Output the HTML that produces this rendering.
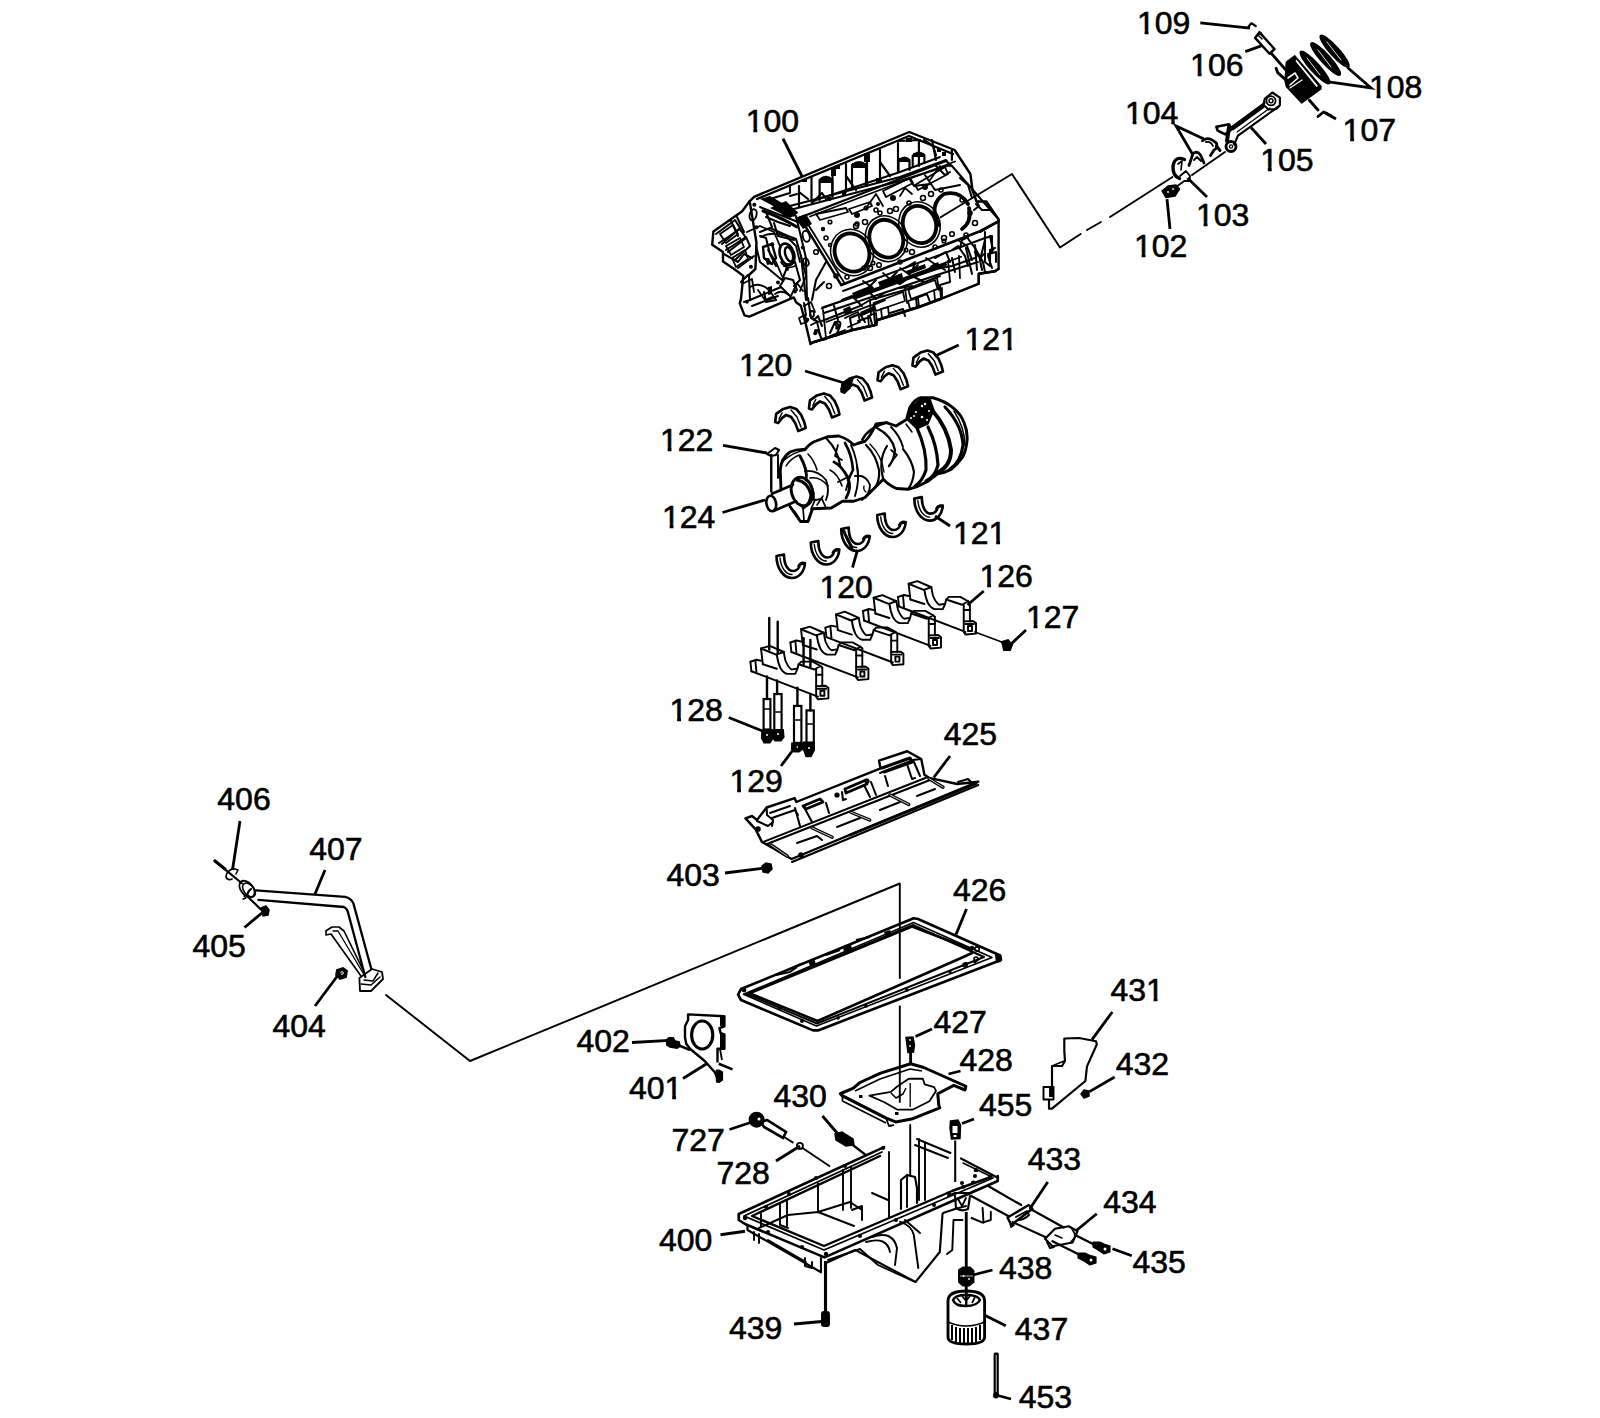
<!DOCTYPE html>
<html><head><meta charset="utf-8"><style>
html,body{margin:0;padding:0;background:#fff;width:1600px;height:1418px;overflow:hidden}
svg{display:block}
.lb text{font-family:"Liberation Sans",sans-serif;font-size:32px;fill:#000;stroke:#000;stroke-width:0.6px}
.ld polyline{fill:none;stroke:#000;stroke-width:2.8;stroke-linecap:butt;stroke-linejoin:miter}
</style></head><body>
<svg width="1600" height="1418" viewBox="0 0 1600 1418">
<rect width="1600" height="1418" fill="#fff"/>
<g id="lines" fill="none" stroke="#000" stroke-width="1.92" stroke-linejoin="round" stroke-linecap="round">
<!-- block to conn rod -->
<polyline points="940.6,217.3 1012,174 1060,247.5 1080.6,234"/>
<polyline points="1087,230 1101,222" />
<polyline points="1110,217 1172.5,177" />
<polyline points="1192,175 1225,152" />
<!-- dipstick to gasket -->
<polyline points="386,995 470,1061 899.8,883.5 899.8,978"/>
<polyline points="899.8,1006.5 899.8,1102"/>
<polyline points="910.2,1125 910.2,1176"/>
</g>

<g id="piston" fill="none" stroke="#000" stroke-width="1.92" stroke-linejoin="round" stroke-linecap="round">
<!-- 109 hook -->
<polyline points="1248.2,27 1251.4,23.1 1255.8,26.2" stroke-width="2.16"/>
<!-- wrist pin 106 -->
<polygon points="1259.4,32.1 1274.5,49.1 1269.5,53.8 1255.1,37.9" stroke-width="2.4"/>
<polyline points="1256.5,36.5 1261,32.5" stroke-width="1.56"/>
<polyline points="1258,35 1262,39" stroke-width="1.44"/>
<line x1="1271" y1="53" x2="1291.4" y2="76.3" stroke-width="2.8"/>
<polyline points="1276.2,68.4 1277.9,72.9 1286.9,80.8" stroke-width="2.88"/>
<!-- rings 108 -->
<g fill="#000" stroke-width="1.44">
<ellipse cx="1315" cy="67.5" rx="4.6" ry="21.5" transform="rotate(-42 1315 67.5)"/>
<ellipse cx="1325.6" cy="59" rx="4.6" ry="21.5" transform="rotate(-42 1325.6 59)"/>
<ellipse cx="1334.6" cy="51.2" rx="4.6" ry="21" transform="rotate(-42 1334.6 51.2)"/>
</g>
<g stroke="#fff" stroke-width="0.9">
<line x1="1307" y1="58" x2="1320" y2="75"/>
<line x1="1318" y1="50" x2="1331" y2="67"/>
<line x1="1327" y1="42" x2="1341" y2="60"/>
</g>
<!-- piston body -->
<polygon points="1286.4,62.2 1294.8,56 1320.8,86.4 1320.8,88.7 1301.6,102.8 1286.4,86.4 1285.2,80.8" fill="#000" stroke-width="1.68"/>
<line x1="1296.5" y1="61" x2="1316.8" y2="85.9" stroke="#fff" stroke-width="1.8"/>
<polyline points="1288,78 1295,73 1298,78 1290,85" stroke="#fff" stroke-width="1.56"/>
<polyline points="1290,88 1302,80" stroke="#fff" stroke-width="1.2"/>
<!-- 107 retainer -->
<polyline points="1309.4,100.3 1318,110" stroke-width="2.88"/>
<polyline points="1318,116.5 1323.5,112 1331,116" stroke-width="2.88"/>
<!-- conn rod 105 -->
<polygon points="1264.7,98.9 1272.3,92.5 1279.9,97.6 1279.9,105.2 1276.1,109 1268.5,109.5 1263.5,105" stroke-width="2.16"/>
<circle cx="1271" cy="100.8" r="4.6" stroke-width="1.8"/>
<circle cx="1271" cy="100.8" r="2" stroke-width="1.44"/>
<polyline points="1264.7,102.7 1230.4,128" stroke-width="1.92"/>
<line x1="1263" y1="106" x2="1233" y2="128" stroke-width="4.2"/>
<polyline points="1278.6,106.5 1238,135.7 1234.2,144.6" stroke-width="2.16"/>
<line x1="1270" y1="108" x2="1237" y2="132" stroke-width="1.2"/>
<polyline points="1216.4,126.8 1229.1,124.3 1231.7,129.3 1225.3,134.4 1217.7,130.6 1216.4,126.8" stroke-width="2.64"/>
<line x1="1229" y1="127" x2="1227" y2="141" stroke-width="4"/>
<circle cx="1231" cy="146.5" r="5" stroke-width="2.88"/>
<circle cx="1231" cy="146.5" r="1.6" stroke-width="1.2"/>
<!-- bearings 104 -->
<path d="M1202.5,140.8 Q1208,135.5 1216.5,143.3 Q1218,148 1214,150 L1210.5,155.5" stroke-width="2.8"/>
<path d="M1206,142 Q1211,141 1213,146" stroke-width="1.8"/>
<path d="M1216.5,146 L1220,150.5" stroke-width="2.88"/>
<path d="M1189,165.5 L1193,153.5 Q1197,150.5 1200.5,155 L1204,163" stroke-width="2.8"/>
<path d="M1194,160 L1197,157 L1201,161" stroke-width="1.8"/>
<!-- cap 103 -->
<path d="M1184.5,159.5 Q1175,155.5 1173,166 Q1172.5,176 1179.5,178.5" stroke-width="3.4"/>
<path d="M1178,164 L1182,161 L1181,170" stroke-width="1.68"/>
<polyline points="1180,176 1186,171 1190,176 1189.5,181 1184,181" stroke-width="1.92"/>
<!-- nut 102 -->
<polygon points="1162,191 1168,186 1176,185 1179.5,189 1175,196 1166,197.6" fill="#000" stroke-width="1.44"/>
<circle cx="1168" cy="192" r="0.9" fill="#fff" stroke="none"/><circle cx="1173" cy="189" r="0.9" fill="#fff" stroke="none"/>
<line x1="1176" y1="187" x2="1183" y2="182" stroke-width="1.8"/>
</g>

<g id="block" fill="none" stroke="#000" stroke-width="2.04" stroke-linejoin="round" stroke-linecap="round">
<!-- silhouette -->
<polygon stroke-width="2.4" points="754.1,196.8 909.3,132 954.6,150 970.4,174 972.5,190.5 976.6,201.5 986.3,201.5 998.6,219.4 998.6,268.75 995,271.25 978.75,273.75 978.75,283.75 941.25,298.75 917.5,307.5 877.5,320 875,325 852.5,330 812.5,342.5 810.5,344.2 805.7,323.8 800.9,305.8 796.1,302.2 793.7,297.4 749.3,316.6 744.5,315.4 739.8,303.4 741,298.6 743.3,275.9 733.8,268.7 723,261.5 723,251.9 712.2,244.7 713.4,231.5 742.2,211.2 749.3,201.6"/>
<!-- valley rails -->
<polyline stroke-width="2.4" points="757,199 909,136 953,154"/>
<polyline stroke-width="2.16" points="790,206 900,177 946,160 950,166"/>
<polyline stroke-width="2.16" points="790,210 900,181 950,165"/>
<polyline stroke-width="1.92" points="813,201 900,172 940,157"/>
<polyline stroke-width="1.92" points="770,199 790,193 790,185"/>
<g stroke-width="2.16">
<polyline points="799,186 799,207"/><polyline points="811.5,177 811.5,202"/>
<polyline points="832.5,170 832.5,197"/><polyline points="846,164 846,192"/>
<polyline points="867,156 867,186"/><polyline points="880,150 880,179"/>
<polyline points="898,143 898,172"/><polyline points="918.9,140 918.9,166"/>
<polyline points="932,140 936,160"/><polyline points="951.9,150 951.9,160"/>
<path d="M819.6,200 L819.6,180 Q826,174 832.3,180 L832.3,197"/>
<path d="M852,189 L852,165 Q859,159 866,165 L866,186"/>
<path d="M898.5,172 L898.5,161 Q904,155 909.5,160 L909.5,170"/>
<path d="M912.7,166 L912.7,156 Q918,150 924.4,155 L924.4,163"/>
<polyline points="846,176 856,190"/><polyline points="799,192 808,199"/>
<polyline points="880,162 890,176"/><polyline points="924,140 933,146 936,155"/>
<polyline points="899,141 920,140"/>
<polyline points="812,203 822,193 826,199"/>
<polyline points="790,196 797,194"/>
</g>
<g fill="#000" stroke="none">
<rect x="820" y="178" width="12" height="5"/><rect x="852" y="163" width="14" height="5"/>
<rect x="899" y="158" width="10" height="4"/><rect x="913" y="153" width="11" height="4"/>
<rect x="831" y="168" width="5" height="8"/><rect x="864" y="153" width="6" height="9"/>
<rect x="802" y="179" width="5" height="3"/><rect x="835" y="165" width="5" height="4"/>
<rect x="876" y="178" width="6" height="5"/><rect x="906" y="138" width="6" height="4"/>
<rect x="937" y="148" width="4" height="4"/><rect x="942" y="152" width="4" height="4"/>
<polygon points="770,208 786,201 798,213 790,218"/>
<polygon points="795,218 806,214 812,224 803,229"/>
<rect x="827" y="197" width="4" height="4"/><rect x="842" y="192" width="4" height="4"/>
</g>
<!-- deck -->
<polyline stroke-width="2.16" points="800,217.5 946,161 952,166 998.6,219.4"/>
<polyline stroke-width="2.4" points="800,217.5 841.25,285"/>
<polyline stroke-width="1.8" points="806,221 845,284"/>
<polyline points="935,165 945,175 950,172"/>
<polyline points="925,175 935,190 960,185"/>
<polyline points="909,178 914,186 930,184"/>
<polyline points="960,178 968,185 972,198"/>
<polyline points="976,204 982,210 990,210"/>
<!-- deck-valley band details -->
<polyline stroke-width="1.8" points="810,216.5 955,161.5"/>
<polygon stroke-width="1.8" points="816,214 846,208 848,212 820,220"/>
<polygon stroke-width="1.8" points="849,209 870,202 872,206 852,214"/>
<polygon stroke-width="1.8" points="883,191 910,178 913,183 886,197"/>
<polygon stroke-width="1.8" points="915,185 945,167 948,174 918,190"/>
<polyline stroke-width="1.8" points="866,208 876,194 883,206"/>
<polyline stroke-width="1.8" points="930,180 940,166"/>
<polyline stroke-width="1.8" points="900,196 905,188 912,194"/>
<g fill="#000" stroke="none">
<circle cx="857" cy="215" r="3"/><circle cx="893" cy="198" r="3"/><circle cx="925" cy="187" r="3"/>
<circle cx="823" cy="229" r="2.2"/><circle cx="878" cy="204" r="2"/>
</g>
<g stroke-width="1.56">
<circle cx="856" cy="226" r="2.5"/><circle cx="865" cy="222" r="2.5"/><circle cx="890" cy="211" r="2.5"/>
<circle cx="896" cy="209" r="2.5"/><circle cx="923" cy="198" r="2.5"/><circle cx="931" cy="194" r="2.5"/>
<circle cx="829" cy="286" r="2.5"/><circle cx="870" cy="268" r="2.5"/><circle cx="879" cy="265" r="2.3"/>
<circle cx="912" cy="252" r="2.5"/><circle cx="944" cy="238" r="2.5"/><circle cx="952" cy="234" r="2.3"/>
<circle cx="975" cy="223" r="2.5"/><circle cx="816" cy="252" r="2.3"/><circle cx="836" cy="276" r="2"/>
</g>
<!-- bores -->
<g stroke-width="3.8">
<ellipse cx="852" cy="252.5" rx="17" ry="19.5" transform="rotate(-23 852 252.5)"/>
<ellipse cx="886.3" cy="238.7" rx="16.5" ry="19.3" transform="rotate(-23 886.3 238.7)"/>
<ellipse cx="919.5" cy="224.5" rx="16.3" ry="19" transform="rotate(-23 919.5 224.5)"/>
<path d="M939,225 Q928,205 944,194 Q960,190 968,204" />
<path d="M969,208 Q972,222 962,229"/>
</g>
<g stroke-width="1.56">
<ellipse cx="852" cy="252.5" rx="21" ry="23.5" transform="rotate(-23 852 252.5)"/>
<ellipse cx="886.3" cy="238.7" rx="20.5" ry="23.3" transform="rotate(-23 886.3 238.7)"/>
<ellipse cx="919.5" cy="224.5" rx="20.3" ry="23" transform="rotate(-23 919.5 224.5)"/>
<circle cx="826" cy="238" r="2"/><circle cx="857" cy="224" r="2"/><circle cx="864" cy="268" r="2"/><circle cx="880" cy="213" r="2"/>
<circle cx="900" cy="262" r="2"/><circle cx="909" cy="203" r="2"/><circle cx="935" cy="247" r="2"/><circle cx="941" cy="190" r="2"/>
<circle cx="966" cy="235" r="2"/><circle cx="847" cy="277" r="2"/><circle cx="876" cy="210" r="2"/><circle cx="830" cy="245" r="1.5"/>
<circle cx="962" cy="200" r="2"/><circle cx="970" cy="213" r="2"/><circle cx="873" cy="263" r="1.8"/><circle cx="906" cy="250" r="1.8"/>
<circle cx="944" cy="241" r="1.8"/><circle cx="830" cy="222" r="1.8"/><circle cx="866" cy="208" r="1.8"/>
</g>
<!-- rear face -->
<polyline points="976.6,201.5 979,206 974,210"/>
<polyline points="980,232 997,222"/>
<polyline points="985,232 985,262 990,266 990,250 995,248"/>
<polyline points="990,236 993,250"/>
<polyline points="966,236 975,248 983,262 985,272"/>
<polyline points="958,240 967,246 972,260"/>
<polyline points="988,254 996,252 996,262"/>
<!-- skirt -->
<polyline stroke-width="2.64" points="841.25,285 980,231.25 998.75,221.25"/>
<polyline stroke-width="1.92" points="843,291 985,238"/>
<polyline stroke-width="2.16" points="822.5,307.5 937.5,268.75 952,266 975,258"/>
<polyline stroke-width="1.92" points="824,313 940,274 978,262"/>
<polyline stroke-width="1.92" points="822,321 860,306 870,300 905,290 940,276"/>
<polyline stroke-width="2.4" points="812.5,342.5 852.5,330 875,325 877.5,320 917.5,307.5 941.25,298.75 978.75,283.75 978.75,273.75 995,271.25 998.75,268.75"/>
<polyline points="852,330 850,318 860,314 865,322"/>
<polyline points="875,323 873,305 885,300"/>
<polyline points="917,307 916,298 927,294 930,302"/>
<polyline points="941,298 940,285 950,282"/>
<polyline points="830,333 835,322 840,326 836,336"/>
<polyline points="858,321 870,317 872,324"/>
<polyline points="890,313 903,309 905,316"/>
<polyline points="842,300 852,296 862,306"/>
<polyline points="856,293 866,289 876,299 884,293"/>
<polyline points="888,280 900,284 912,276 924,282"/>
<polyline points="928,270 935,264 945,270"/>
<polyline points="900,288 912,286"/>
<polyline points="905,268 915,262 912,272"/>
<polyline points="935,258 946,252 950,262"/>
<polyline points="952,250 958,246 965,256 968,266"/>
<polyline points="960,248 962,240 968,237"/>
<polyline points="966,248 972,274"/><polyline points="975,245 977,270"/>
<polyline points="955,272 952,258"/>
<polyline points="985,238 992,236 992,252 988,256 992,268"/>
<polyline points="975,252 980,258 984,254"/>
<polyline points="985,240 980,260 982,270"/>
<polyline points="818,330 822,340 826,339"/>
<polyline points="814,320 818,316 822,326"/>
<polyline points="834,306 838,320"/>
<g fill="#000" stroke="none">
<polygon points="852,293 872,285 874,290 854,298"/>
<polygon points="878,282 902,273 903,278 880,287"/>
<polygon points="906,271 925,264 926,268 908,275"/>
<polygon points="860,312 874,306 876,310 862,316"/>
<polygon points="843,309 850,306 852,312 845,315"/>
<polygon points="930,266 938,262 940,266 932,270"/>
<circle cx="816" cy="331" r="2"/><circle cx="837" cy="328" r="1.8"/>
</g>
<!-- skirt extra density -->
<g stroke-width="1.8">
<polyline points="856.6,297.25 945.5,264.6" stroke-width="3.2"/>
<polyline points="821.75,308.5 961.25,256.75"/>
<polyline points="826.25,322 871.25,305.1"/>
<polygon points="873.5,303 903,292 905,301 876,311"/>
<polygon points="908.4,290 935,280 937.6,289 911,299"/>
<polyline points="870,300 871,315"/><polyline points="905,288 907,303"/>
<polyline points="936.5,275 939,290"/><polyline points="948,261 950,281"/><polyline points="959,256 960,278"/>
<polyline points="863,281 873,288"/><polyline points="883,273 891,280"/><polyline points="900,268 910,275"/><polyline points="926,258 936,265"/>
<polyline points="868,288 876,280"/><polyline points="889,280 897,272"/><polyline points="910,272 918,265"/>
<polygon points="868,316 876,313 877,325 869,327"/>
<polygon points="881,309 888,307 889,316 882,318"/>
<polygon points="908,301 918,298 919,307 910,309"/>
<polygon points="934,290 942,288 942,298 935,300"/>
<polyline points="823,310 826,338"/>
<circle cx="838" cy="324" r="2.5"/>
<polyline points="845,318 858,312 860,322 848,327"/>
<polyline points="830,336 845,330"/>
</g>
<!-- front face extra density -->
<g stroke-width="1.8">
<path d="M747,232 L760,226 L774,232 L780,246"/>
<path d="M761,237 Q770,231 786,236 L796,246 L800,262"/>
<path d="M763,211 Q780,217 797,227" stroke-width="3"/>
<path d="M720,234 L733,225 L738,234 L726,243 Z"/>
<path d="M726,246 L740,238 L744,247 L731,255 Z"/>
<path d="M732,258 L745,250 L748,259 L736,267 Z"/>
<path d="M750,287 Q760,281 770,291 L776,300"/>
<path d="M775,294 Q782,289 789,295"/>
<path d="M790,298 L797,283 L803,291"/>
<path d="M801,256 L806,276 L800,291"/>
<path d="M742,284 L752,279 L754,292"/>
<path d="M758,290 L765,300 L772,297"/>
<path d="M781,262 Q786,270 795,266"/>
<path d="M768,250 L776,262 L782,276"/>
<path d="M804,306 L811,302 L815,312"/>
<path d="M811,325 L817,322 L820,334"/>
<ellipse cx="812" cy="314" rx="2" ry="3" />
<ellipse cx="806" cy="262" rx="2.5" ry="4" transform="rotate(-20 806 262)"/>
</g>
<!-- front face -->
<polyline stroke-width="2.4" points="749.7,201.3 756.5,243 755.4,269 749,275"/>
<polyline points="760,232 770,228 788,236 796,239 801,256 806,300"/>
<polyline points="796,216 805.9,257.7 807,299.4"/>
<polyline points="760,207 798,222"/>
<polyline points="766,212 772,227"/>
<polyline points="756,246 760,262 770,270 782,280 786,270"/>
<polyline points="760,236 766,238 770,254 776,266"/>
<polyline points="766,217 778,222 790,226"/>
<polyline points="774,223 778,236 794,240"/>
<polyline stroke-width="2.4" points="763,247 772,244 776,258 772,264 764,258 763,247"/>
<ellipse cx="787" cy="254.3" rx="7" ry="11" transform="rotate(-18 787 254.3)" stroke-width="2.64"/>
<ellipse cx="789" cy="254.3" rx="3.6" ry="7.4" transform="rotate(-18 789 254.3)" stroke-width="2.4"/>
<ellipse cx="753.1" cy="214.8" rx="3.4" ry="5.6" transform="rotate(15 753.1 214.8)" stroke-width="1.92"/>
<ellipse cx="806.2" cy="236.25" rx="3.4" ry="5.6" transform="rotate(-15 806.2 236.25)" stroke-width="1.92"/>
<polyline points="716,234 735,220 740,228 722,244"/>
<polyline points="719,243 740,229 746,238 728,252"/>
<polyline points="726,250 746,237 750,246 735,260"/>
<polyline points="724,254 738,262 744,254 752,258"/>
<polyline points="731,221 738,236"/><polyline points="737,217 744,232"/>
<polyline points="738,268 754,256"/>
<polyline points="748,275 741,282"/>
<polyline points="749,276 750,300 744,302"/>
<polyline points="750,300 774,290 781,287 790,296"/>
<polyline points="752,306 778,296"/>
<polyline points="764,292 766,302 776,300"/>
<polyline points="780,286 785,278 793,280 797,290"/>
<polyline points="784,266 795,262 800,280 794,286"/>
<polyline points="808,298 811,318 818,322"/>
<polyline points="804,303 806,315"/>
<polyline points="812,300 816,280 826,262"/>
<polyline points="816,290 824,282"/>
<polygon points="799,318 805,315 807,322 801,324" stroke-width="1.8"/>
<g fill="#000" stroke="none">
<circle cx="754.3" cy="204.7" r="2"/><circle cx="756.5" cy="227.2" r="2"/><circle cx="750.9" cy="266.7" r="2"/>
<circle cx="772.3" cy="244.2" r="2"/><circle cx="778" cy="282.5" r="2"/><circle cx="787" cy="269" r="2"/>
<circle cx="794.9" cy="291.5" r="2"/><circle cx="802.8" cy="247.5" r="2"/><circle cx="807.3" cy="319.7" r="2"/>
<circle cx="815.2" cy="333.3" r="2"/><circle cx="747" cy="302" r="1.8"/><circle cx="742" cy="231" r="1.6"/>
<polygon points="760,199 770,196 798,212 794,217"/>
<polygon points="772,205 782,203 792,214 786,218"/>
<polygon points="765,258 769,258 772,264 767,265"/>
<polygon points="768,287 772,286 772,294 768,295"/>
</g>
</g>

<g id="crank" fill="none" stroke="#000" stroke-width="2.04" stroke-linejoin="round" stroke-linecap="round">
<!-- top bearing shells 120/121 -->
<defs>
<g id="shT">
<polygon stroke-width="2.64" points="775.2,421.9 776.2,413.9 783.2,408.9 790.2,406.9 796.2,408.9 801.2,414.9 804.2,421.9 805.7,427.9 798.2,430.9 795.2,422.9 791.2,416.9 786.2,414.9 782.2,417.9 778.2,422.9"/>
<polyline stroke-width="1.44" points="791,410 797,417 801,427"/>
<polyline stroke-width="1.44" points="779,419 782,413"/>
</g>
<g id="shB">
<path stroke-width="2.64" d="M776.5,556 C776.5,569 784,578 792,578 C799.5,578 804.5,571 805,563 L800,564.5 C799,568.5 797,571 793,571 C788,571 784,565 784,554.5 Z"/>
<path stroke-width="1.44" d="M780,558 C781,568 786,574.5 792,574.5"/>
<path stroke-width="1.56" d="M798,566 Q801,561 805,563"/>
</g>
</defs>
<use href="#shT"/>
<use href="#shT" transform="translate(33.75,-13.5)"/>
<use href="#shT" transform="translate(66.35,-30.4)"/>
<use href="#shT" transform="translate(102.35,-41.65)"/>
<use href="#shT" transform="translate(137.25,-56.3)"/>
<polygon points="841,389 847,380 853,378 850,388 844,393" fill="#000" stroke-width="1.68"/>
<use href="#shB"/>
<use href="#shB" transform="translate(34.3,-13.5)"/>
<use href="#shB" transform="translate(64.7,-27)"/>
<use href="#shB" transform="translate(100.7,-41)"/>
<use href="#shB" transform="translate(137.8,-57.4)"/>
<polyline points="843,530 848,540 852,548" stroke-width="2.88"/>
<!-- 122 pin -->
<path d="M767,454 L775,448 L779,450 L776,455 L771,456 Z" stroke-width="2.16"/>
<line x1="771.25" y1="455" x2="771.25" y2="491.5" stroke-width="2.4"/>
<line x1="778" y1="455" x2="778" y2="478" stroke-width="1.92"/>
<!-- snout -->
<polyline stroke-width="2.64" points="772,493.75 793,484.75"/>
<polyline stroke-width="2.64" points="773.5,511 796,501.25"/>
<ellipse cx="771.25" cy="503.5" rx="4.8" ry="7.8" transform="rotate(-10 771.25 503.5)" stroke-width="2.64"/>
<!-- silhouette -->
<path stroke-width="2.88" d="M781,490 L780.25,470 Q781,458 790,452 Q797,449 805,449.5 Q810,443 816,441 L827.5,436.75 L838.75,436 Q848,439 853.75,445 L857.5,443.5 L865,441.25 Q870,437 876,424 L886.4,422.6 L896,426 L906.5,419.5 L909.65,407.8 Q915,399 920.5,397.75 L932.9,397.75 Q945,401 953.1,407.8 Q961,414 964,422.6 Q968,432 967,441.2 Q966,451 962.4,457.5 Q957,465 951.5,469.1 Q944,473 937.6,473.8 L927.5,481.5 Q918,487 908.1,489.3 L896.5,488.5 Q888,485 883.3,479.2 L872.5,490 L865,497.5 L853.75,501.25 L842.5,501.25 L831.25,508 L812.5,508.75 L808,521.5 L800.5,521.5 L790,506.5"/>
<!-- front throw -->
<path d="M782.5,461.5 Q793,452 805,450.25" stroke-width="1.68"/>
<path d="M786,466 Q790,459 799,455" stroke-width="1.44"/>
<ellipse cx="802" cy="491.5" rx="10.5" ry="14.5" transform="rotate(-15 802 491.5)" stroke-width="2.88"/>
<path d="M797,480 Q808,482 811,495 Q810,505 803,508" stroke-width="3"/>
<path d="M804,478 Q815,486 814,500" stroke-width="1.92"/>
<path d="M800,456 Q808,470 806,480" stroke-width="2.88"/>
<path d="M808,454 Q814,460 817,470" stroke-width="1.56"/>
<path d="M805,471 Q818,470 826,480 Q830,490 826,500" stroke-width="1.92"/>
<path d="M810,478 Q820,476 828,486" stroke-width="1.56"/>
<path d="M811,509 L815,500 L822,499 L826,508" stroke-width="1.8"/>
<path d="M817,505 L823,496" stroke-width="1.56"/>
<polyline points="790,506.5 795,512 799,518" stroke-width="1.68"/>
<polyline points="803,508 804,520" stroke-width="1.68"/>
<!-- second throw -->
<path d="M826,438 Q838,450 840,465" stroke-width="2.16"/>
<path d="M838,445 L835,456 L842,460" stroke-width="1.8"/>
<path d="M845,443 Q852,455 853,470 L848,480" stroke-width="2.64"/>
<path d="M851,445 Q858,460 858,478" stroke-width="1.8"/>
<path d="M834,462 Q842,466 848,478 Q852,488 846,498" stroke-width="2.88"/>
<path d="M830,470 Q838,474 842,486" stroke-width="1.56"/>
<path d="M838,482 L850,476 L846,490" stroke-width="1.92"/>
<path d="M855,476 Q866,474 870,485 Q870,494 862,500" stroke-width="1.92"/>
<path d="M857,466 Q860,480 855,496" stroke-width="1.92"/>
<path d="M864,486 Q863,490 866,492" stroke-width="1.32"/>
<!-- third disc -->
<path d="M862.3,439.65 Q868,428 886.4,422.6" stroke-width="2.4"/>
<path d="M877,428 Q892,436 895,450 Q894,460 889,466" stroke-width="2.4"/>
<path d="M891,427 Q900,436 903,447" stroke-width="1.92"/>
<path d="M866,445 Q876,455 879,470 Q880,480 875,488" stroke-width="2.16"/>
<path d="M870,444 Q882,456 884,472" stroke-width="1.32"/>
<path d="M891,450 L897,455 L893,460" stroke-width="1.68"/>
<!-- rear disc and flange -->
<path d="M887,446 Q878,460 883.3,479.2" stroke-width="2.16"/>
<path d="M903,449 Q912,460 914,472 Q913,483 908,489" stroke-width="2.16"/>
<path d="M917,428 Q927,450 926,470 Q922,482 915,486" stroke-width="3.12"/>
<path d="M928,427 Q937,445 938,465 Q935,477 926,481" stroke-width="3.2"/>
<path d="M932,410 Q948,428 951,450 Q951,466 937,473" stroke-width="4"/>
<path d="M945,407 Q962,425 963,445 Q961,462 950,469" stroke-width="3.12"/>
<path d="M954,411 Q965,428 965,446" stroke-width="1.44"/>
<polygon points="907,419.5 910,408.5 920.5,399 930,399 934,410 928,424 917,429" fill="#000" stroke-width="1.2"/>
<g fill="#fff" stroke="none"><circle cx="925" cy="404" r="1.2"/><circle cx="916" cy="412" r="1.1"/><circle cx="911" cy="418" r="1"/><circle cx="922" cy="417" r="1.3"/><circle cx="929" cy="411" r="1"/></g>
<circle cx="922" cy="406" r="1.2" fill="#fff" stroke="none"/><circle cx="914" cy="416" r="1" fill="#fff" stroke="none"/>
<circle cx="927" cy="420" r="1" fill="#fff" stroke="none"/>
<path d="M906,424 L912,432" stroke-width="1.56"/>
</g>

<defs>
<g id="cap" fill="none" stroke="#000" stroke-width="1.92" stroke-linejoin="round" stroke-linecap="round">
<polygon points="908.6,583.75 917.4,581.1 931.4,587.25 923.6,589.9"/>
<polyline points="908.6,583.75 910.4,599.5"/>
<polyline points="898,597 904,595 908.6,596"/>
<polyline points="898,597 899,606.5"/>
<polyline points="903,596 904,607"/>
<path d="M924.4,589.9 Q925.5,598 927.9,603 Q931,608.5 934.9,609.1 L942.8,609.1 Q945.5,604 946.25,599.5"/>
<path d="M931.4,587.25 Q932,592 933.1,596 Q936,603 939.25,604.75 L944.5,603.9"/>
<polyline points="946.25,599.5 948.9,596.9 960.25,596.9 968.1,601.25 962,604.75 946.25,599.5"/>
<polyline points="963.75,604.75 963.75,621.4"/>
<polyline points="969.9,603 969.9,621.4"/>
<polyline points="968.1,601.25 969.9,603"/>
<polyline points="963.75,610 969.9,610 M963.75,616 969.9,616"/>
<polygon points="963.75,621.4 973,621 976,623 976,633.6 965.5,634.5 963.75,632"/>
<polyline points="965.5,624 974,624"/>
<rect x="968" y="626" width="4" height="5"/>
<polyline points="899,606.5 965.5,631.9"/>
<polyline points="910.4,599.5 924.4,604"/>
</g>
</defs>
<use href="#cap"/>
<use href="#cap" transform="translate(-35,14)"/>
<use href="#cap" transform="translate(-72.6,30.6)"/>
<use href="#cap" transform="translate(-107.6,45.5)"/>
<use href="#cap" transform="translate(-147.6,64.75)"/>
<g fill="none" stroke="#000" stroke-width="1.92" stroke-linecap="round">
<!-- bolt 127 -->
<line x1="975" y1="632" x2="1003" y2="642.5" stroke-width="1.8"/>
<polygon points="1002,642 1008,640 1012,645 1010,650 1004,650" fill="#000"/>
<!-- bolts 128/129 -->
<g stroke-width="2.4">
<line x1="769.25" y1="617.9" x2="769.25" y2="649.5"/>
<line x1="777.7" y1="621.8" x2="777.7" y2="652.9"/>
<line x1="803.6" y1="638.2" x2="803.6" y2="665.3"/>
<line x1="810.4" y1="639.9" x2="810.4" y2="666.4"/>
<line x1="767" y1="676.5" x2="767" y2="699"/>
<line x1="777.1" y1="680.5" x2="777.1" y2="694"/>
<line x1="797.4" y1="687.8" x2="797.4" y2="705.9"/>
<line x1="810.4" y1="694" x2="810.4" y2="710.4"/>
</g>
<g stroke-width="2.16">
<rect x="763.6" y="699" width="6.8" height="30.5"/>
<rect x="774.3" y="694" width="7.3" height="37"/>
<rect x="794" y="705.9" width="7.4" height="37"/>
<rect x="806.5" y="710.4" width="7.3" height="32.6"/>
<line x1="763.6" y1="709" x2="770.4" y2="709" stroke-width="1.44"/>
<line x1="775.5" y1="712" x2="780.5" y2="712" stroke-width="1.44"/>
<line x1="795" y1="720" x2="800.5" y2="720" stroke-width="1.44"/>
<line x1="807.5" y1="724" x2="812.8" y2="724" stroke-width="1.44"/>
</g>
<g fill="#000" stroke-width="1.2">
<polygon points="761.9,730 772.6,730 773,738 770,743 764,743 761.5,738"/>
<polygon points="772,729.5 783.3,729.5 784,737 781,740.8 775,740.8 772,737"/>
<polygon points="791.8,743 802.5,743 803,749 799,752 794,752 791.5,749"/>
<polygon points="803.6,742 814.4,742 814.4,750 811,756.6 806,756.6 803.6,750"/>
</g>
<g fill="#fff" stroke="none">
<circle cx="767" cy="735" r="1"/><circle cx="778" cy="734" r="1"/><circle cx="797" cy="747" r="1"/><circle cx="809" cy="748" r="1"/>
</g>
</g>

<g id="baffle" fill="none" stroke="#000" stroke-width="2.04" stroke-linejoin="round" stroke-linecap="round">
<polygon stroke-width="2.4" points="745.5,818.4 752,816 757,820 766.6,807.5 794.7,798.1 796.25,802 880.6,768.4 879,760.6 907.2,751.25 921.25,759 924.4,774.7 929,777.8 957.2,784 978.3,781.7 791.6,859 761.9,841.9 755.6,829.4"/>
<polyline points="978.3,785 792,862"/>
<polyline stroke-width="2.88" points="976,783.5 850,835"/>
<polyline points="763.4,841.9 926,777.8"/>
<polyline points="767,844 930,780"/>
<polyline points="757,821 768,826 773,822"/>
<polyline points="766.6,807.5 767,815 773,820 772,826"/>
<polyline points="770,813 790,806"/>
<polyline points="772,818 795,810 798,815"/>
<polyline points="803,806 820,799 823,802 806,809 803,806" stroke-width="2.88"/>
<polyline points="845,789 866,780 867,784 846,793 845,789" stroke-width="2.88"/>
<polyline points="882,768 910,758 912,762 884,772" stroke-width="3.12"/>
<polyline points="880,773 913,760 921,759"/>
<polyline points="907,764 912,779 915,778"/>
<polyline points="914,762 920,776"/>
<polyline points="795,808 800,826"/><polyline points="804,807 812,822"/>
<polyline points="826,803 829,813"/><polyline points="842,792 843,800 846,799"/>
<polyline points="871,782 876,795"/><polyline points="864,785 870,797"/>
<polyline points="885,776 888,786"/>
<g stroke-width="3.4">
<polyline points="811.9,827.8 832.2,837.2"/>
<polyline points="850.9,812.2 869.7,820"/>
<polyline points="890,795 908.75,804.4"/>
<polyline points="929,778.6 943,787.2"/>
<polyline points="771,845 787,856"/>
</g>
<g stroke="#fff" stroke-width="0.8">
<polyline points="811.9,827.8 832.2,837.2"/>
<polyline points="850.9,812.2 869.7,820"/>
<polyline points="890,795 908.75,804.4"/>
<polyline points="929,778.6 943,787.2"/>
<polyline points="771,845 787,856"/>
</g>

<polyline points="797,843 817,836 822,840"/>
<polyline points="837,827 860,818"/>
<polyline points="880,810 900,802"/>
<polyline points="917,796 935,789"/>
<polyline points="958,782 968,779 972,783"/>
<circle cx="837" cy="795" r="1.6" fill="#000"/>
<circle cx="867" cy="781" r="1.6" fill="#000"/>
<circle cx="758" cy="829" r="1.8" fill="#000"/>
<circle cx="801" cy="855" r="1.8" fill="#000"/>
</g>
<g id="nut403" fill="#000" stroke="#000" stroke-width="1.44">
<polygon points="762,866 766,863 771,864 772,869 768,873 763,872"/>
</g>

<g id="tube" fill="none" stroke="#000" stroke-width="2.04" stroke-linejoin="round" stroke-linecap="round">
<line x1="214.5" y1="860.7" x2="241.8" y2="883.25" stroke-width="2.16"/>
<line x1="215" y1="861" x2="225" y2="869" stroke-width="3.12"/>
<path d="M232,869 Q226,872 226,877 Q228,881 232,879" stroke-width="1.68"/>
<polyline points="232,868 238,870 236,874" stroke-width="1.56"/>
<ellipse cx="247" cy="889" rx="6" ry="9.5" transform="rotate(-40 247 889)" stroke-width="1.8"/>
<ellipse cx="249" cy="890" rx="5" ry="8" transform="rotate(-40 249 890)" stroke-width="1.56"/>
<path d="M244,896 L246,898 L243,899" stroke-width="1.44"/>
<path d="M256,890.4 L345.1,896.9 Q351,898 353.4,903.4 L371.25,968.75" stroke-width="2.28"/>
<path d="M258.4,899.9 L343.9,907 Q346,908 347.5,910.6 L365.3,977" stroke-width="2.28"/>
<path d="M251,889 Q246,893 248,897 L260.8,909.4" stroke-width="2.16"/>
<polygon points="261,908 266,906 269,910 268,915 263,916" fill="#000" stroke-width="1.44"/>
<polyline points="326.1,930.75 332,927 339,927 344,931 364,972" stroke-width="1.68"/>
<polyline points="326.1,931 326,935 331,934 361,976" stroke-width="1.68"/>
<polyline points="333,931 338,931 363,973" stroke-width="1.32"/>
<polygon points="359.4,978 372,969 382,972 383,979 371,991 360,991" stroke-width="1.8"/>
<polyline points="361,984 371,985 380,977" stroke-width="1.44"/>
<polyline points="364,980 373,981 378,973" stroke-width="1.44"/>
</g>
<g id="nut404" fill="none" stroke="#000" stroke-width="1.8">
<polygon points="336,975 337,970 343,968 347,971 346,977 340,979" fill="#000"/>
<circle cx="342" cy="973" r="1.4" stroke="#fff" stroke-width="0.9"/>
</g>

<g id="gasket426" fill="none" stroke="#000" stroke-width="1.92" stroke-linejoin="round">
<polygon stroke-width="2.64" points="738.1,994.7 741,989 913.75,918.25 918,919 1000.3,955.5 1001,960 818,1030.4 813,1030.4 741,1000"/>
<polygon stroke-width="1.56" points="743.5,994.3 913.5,922.5 992,957.5 816.5,1026"/>
<polygon stroke-width="1.92" points="746.5,994 913,925 984,957 817,1023.5"/>
<polygon stroke-width="2.64" points="749.4,993.3 912,926.5 970.8,949 972,953 960,958.5 817.5,1021 "/>
<g fill="#000" stroke="none">
<polygon points="843,948 851,945 853,952 845,955"/>
<polygon points="884,932 890,930 892,936 886,938"/>
<polygon points="808,961 814,959 816,964 810,966"/>
<polygon points="995,955 1000,954 1001,962 996,963"/>
<circle cx="744" cy="990" r="2.4"/>
<circle cx="780" cy="1008" r="1.8"/>
<circle cx="802" cy="1021" r="2"/>
<circle cx="838" cy="1018" r="1.8"/>
<circle cx="866" cy="1006" r="1.8"/>
<circle cx="907" cy="990" r="1.8"/>
<circle cx="950" cy="972" r="1.6"/>
</g>
<circle cx="977" cy="949" r="2.2" stroke-width="1.68"/>
<circle cx="976" cy="959" r="2" stroke-width="1.68"/>
<circle cx="965" cy="965" r="2" stroke-width="1.56"/>
<polyline points="776,975 790,972 797,967"/>
<polyline points="826,955 840,950"/>
<polyline points="856,940 870,937"/>
</g>
<circle cx="972" cy="948" r="2.2" stroke-width="1.44"/>
<circle cx="966" cy="964" r="2" stroke-width="1.44"/>
<circle cx="975" cy="962" r="1.6" stroke-width="1.44"/>
<polyline points="787,969 797,966 803,962"/>
<polyline points="826,952 840,947"/>
</g>
<g id="seal401" fill="none" stroke="#000" stroke-width="2.4" stroke-linejoin="round">
<polyline points="717.5,1062.5 717.5,1048.75 724.4,1048.75 724.4,1034.4 720.6,1033.1 719.4,1028.1 724.4,1026.25 724.4,1016.25 688.1,1014.4 688.1,1020 685,1026.25 685,1037.5 686.25,1043.75 690,1048.75 705,1061.25 715,1072.5 717.5,1078.75"/>
<rect x="720" y="1016" width="4.5" height="10" fill="#000" stroke="none"/>
<rect x="720" y="1034" width="4.5" height="14" fill="#000" stroke="none"/>
<ellipse cx="702.2" cy="1035" rx="10.6" ry="14" stroke-width="3.12"/>
<polyline points="720,1049 722,1060" stroke-width="1.8"/>
<polyline points="718.75,1063.75 732.5,1069.4" stroke-width="2.64"/>
<polygon points="716.25,1070 719,1070 722.5,1072 722.5,1080 719,1082.5 716.5,1082" fill="#000" stroke-width="1.2"/>
</g>
<g id="bolt402" fill="#000" stroke="#000" stroke-width="1.8">
<polygon points="666.5,1040 669,1038 673,1038 675,1041 679,1042 680,1046 677,1048 670,1047 667,1045"/>
<line x1="679.4" y1="1045.6" x2="690" y2="1050" stroke-width="2.64"/>
</g>
<g id="screen428" fill="none" stroke="#000" stroke-width="2.4" stroke-linejoin="round">
<polygon stroke-width="3" points="840.3,1093.75 853.4,1088.1 860,1082.5 880.6,1073.1 910.6,1063.75 923.75,1067.5 965.9,1086.25 965,1090 953.75,1085.3 937.8,1093.75 938.75,1105 939.7,1107.8 911.6,1119.1 895.6,1121.9 886.25,1118.1 842.2,1095.6"/>
<polyline stroke-width="1.68" points="855,1091 880,1079 910,1069 922,1071"/>
<polygon stroke-width="1.8" points="869.4,1095.6 890.9,1091.9 897.5,1086.25 908.75,1078.75 922.8,1078.75 924.7,1084.4 934.1,1087.2 936,1090.9 929.4,1101.25 912.5,1109.7 897.5,1109.7 884.4,1102.2"/>
<polyline stroke-width="1.56" points="891,1093 896,1098 903,1094 906,1088"/>
<line x1="910.2" y1="1083" x2="910.2" y2="1107" stroke-width="1.32"/>
<polyline stroke-width="1.8" points="842.5,1096 842.5,1101 886,1123"/>
<polyline stroke-width="1.32" points="845,1098 884,1118"/>
<polyline stroke-width="1.8" points="886,1118 889,1126 894,1125"/>
<rect x="859" y="1095" width="3.5" height="3" fill="#000" stroke="none"/>
<rect x="895" y="1112" width="3.5" height="3" fill="#000" stroke="none"/>
</g>
<g id="bolt427" fill="none" stroke="#000" stroke-width="2.16">
<polygon points="906,1037.5 913,1037 914.5,1045 913.5,1052 908,1052.5 907,1045" fill="#000" stroke-width="1.44"/>
<circle cx="910" cy="1040" r="0.9" fill="#fff" stroke="none"/><circle cx="910" cy="1046" r="0.9" fill="#fff" stroke="none"/>
<line x1="910.6" y1="1052.5" x2="910.6" y2="1064" stroke-width="2.88"/>
</g>
<g id="bolt455" fill="none" stroke="#000" stroke-width="1.92">
<polygon points="950.5,1121 958,1120 960.5,1125 960,1138.5 951.5,1139 950,1128" fill="#000" stroke-width="1.44"/>
<rect x="952.5" y="1126" width="5" height="7" fill="#fff" stroke="none"/>
<rect x="953.5" y="1135" width="3" height="2" fill="#fff" stroke="none"/>
<line x1="955.2" y1="1140.5" x2="955.2" y2="1182" stroke-width="2.04"/>
</g>
<g id="plug727" fill="none" stroke="#000" stroke-width="2.4">
<circle cx="756.6" cy="1119.7" r="6.8" fill="#000"/>
<polygon points="761,1122 767,1120 786,1132 783,1138 764,1127" stroke-width="2.64"/>
<line x1="783.75" y1="1136.75" x2="793.4" y2="1142.9" stroke-width="1.92"/>
<circle cx="759" cy="1119" r="1.5" fill="#fff" stroke="none"/>
<circle cx="799.9" cy="1145.9" r="3" stroke-width="1.92"/>
<line x1="802.5" y1="1148" x2="830.1" y2="1166.5" stroke-width="1.92"/>
</g>
<g id="bolt430" fill="none" stroke="#000" stroke-width="2.16">
<polygon points="835,1134 842,1132 853,1139 854,1145 846,1146 836,1140" fill="#000" stroke-width="1.44"/>
<line x1="851.1" y1="1143.75" x2="866" y2="1155.1" stroke-width="2.4"/>
</g>

<g id="pan" fill="none" stroke="#000" stroke-width="1.92" stroke-linejoin="round" stroke-linecap="round">
<!-- rim outer -->
<polyline stroke-width="2.64" points="884,1147.1 738.75,1214 738.75,1220 745,1224 824.5,1257.4 997.75,1181 997.75,1176"/>
<polyline stroke-width="1.8" points="882,1152 744,1216 824,1250 993,1178"/>
<polyline stroke-width="2.4" points="880,1156 752,1216 824,1246 952,1191 991,1177"/>
<polyline stroke-width="1.92" points="917,1139 950.5,1153"/>
<polyline stroke-width="1.92" points="915,1145 948,1158"/>
<polyline stroke-width="2.16" points="961,1158.5 997.75,1177.75"/>
<polyline stroke-width="1.56" points="963,1163 992,1177"/>
<!-- bolt holes -->
<g fill="#000" stroke="none">
<circle cx="745" cy="1218" r="2.2"/><circle cx="766" cy="1207" r="2"/><circle cx="789" cy="1194" r="2"/>
<circle cx="816" cy="1178" r="2"/><circle cx="845" cy="1166" r="2"/><circle cx="883" cy="1148" r="2"/>
<circle cx="768" cy="1232" r="2"/><circle cx="802" cy="1247" r="2"/><circle cx="826" cy="1254" r="2.2"/>
<circle cx="860" cy="1236" r="2"/><circle cx="896" cy="1220" r="2"/><circle cx="934" cy="1205" r="2"/>
<circle cx="962" cy="1183" r="2"/><circle cx="975" cy="1176" r="2"/><circle cx="990" cy="1177" r="2.2"/>
<circle cx="976" cy="1170" r="2"/>
</g>
<!-- interior walls -->
<polyline points="761,1214 761,1227"/>
<polyline points="780,1203 780,1225 788,1228"/>
<polyline points="787,1200 787,1226"/>
<polyline points="818,1183 818,1212"/>
<polyline points="843,1170 843,1210"/>
<polyline points="851,1167 851,1208"/>
<polyline points="889,1152 889,1217"/>
<polyline points="759,1228 788,1215 818,1212 854,1226"/>
<polyline points="818,1212 850,1202 862,1210"/>
<polyline points="852,1210 862,1206 862,1220"/>
<polyline points="872,1193 888,1200"/>
<!-- pickup -->
<polyline stroke-width="2.16" points="901,1209 901,1180 907,1175 915,1177 917,1188 917,1203"/>
<polyline points="907,1175 907,1207"/>
<polyline points="919,1139 919,1200"/>
<polyline points="925,1143 925,1200"/>
<!-- sump exterior -->
<polyline stroke-width="2.16" points="856,1250.4 915.5,1282 939.8,1252 942.5,1214"/>
<polyline points="828,1260 860,1249 878,1265 913,1281"/>
<path d="M872,1237 Q893,1230 897,1248 L895,1265"/>
<path d="M866,1242 Q887,1236 890,1252"/>
<path d="M900,1221.7 Q912,1226 913.8,1235 L918.3,1268"/>
<polyline points="905,1220 920,1233"/>
<polyline points="962.4,1220 953.5,1220 952.3,1250 947,1254"/>
<polyline points="971.6,1218 982.6,1222.6 990.8,1220 990.8,1211.7"/>
<polyline points="982.6,1208 983.5,1222.6"/>
<polyline points="943,1213 955,1209 966,1206"/>
<g fill="#000" stroke="none">
<ellipse cx="976.1" cy="1170.4" rx="2.4" ry="1.8"/><ellipse cx="973.4" cy="1182.3" rx="2.4" ry="1.8"/>
<ellipse cx="963.3" cy="1186.9" rx="2.4" ry="1.8"/><ellipse cx="948.6" cy="1193.3" rx="2.2" ry="1.7"/>
</g>
<!-- skirt -->
<polyline stroke-width="2.16" points="747.5,1226 747.5,1230 821,1272.25 821,1258"/>
<polyline points="754,1232 754,1240"/><polyline points="759,1234 759,1243"/>
<polyline points="805,1258 805,1266 812,1268 812,1262"/>
<polyline points="768,1240 806,1262"/>
<polyline points="826,1263 855,1250"/>
<!-- right side mount -->
<path d="M955,1196 L956,1208 Q961,1212 968,1209 L970,1196" stroke-width="2.16"/>
<polyline points="958,1199 962,1206 966,1198" stroke-width="1.8"/>
<polyline points="948,1196 955,1193 970,1193 976,1190" stroke-width="1.92"/>
</g>
<g id="pan_bolts" fill="none" stroke="#000" stroke-width="1.92">
<!-- 439 bolt -->
<line x1="825.5" y1="1261" x2="825.5" y2="1312" stroke-width="3.12"/>
<rect x="822" y="1312" width="7" height="14" rx="2" fill="#000"/>
<!-- 438 stud -->
<line x1="966.25" y1="1212" x2="966.25" y2="1300" stroke-width="2.88"/>
<polygon points="959,1270 963,1267.5 970,1267.5 973.5,1271 973.5,1282 969,1285.5 963,1285.5 959,1282" fill="#000"/>
<circle cx="963.5" cy="1276" r="0.9" fill="#fff" stroke="none"/><circle cx="969" cy="1279" r="0.9" fill="#fff" stroke="none"/>
<line x1="960" y1="1276" x2="973" y2="1276" stroke="#fff" stroke-width="0.7"/>
<!-- 453 bolt -->
<rect x="993.6" y="1352.6" width="5.2" height="44" rx="1.5" fill="#000" stroke="none"/>
<line x1="996.2" y1="1355" x2="996.2" y2="1392" stroke="#fff" stroke-width="0.8"/>
<circle cx="996" cy="1395.5" r="3" fill="#000" stroke="none"/>
</g>
<g id="filter437" fill="none" stroke="#000" stroke-width="2.4">
<path d="M948,1301 Q948,1291 966.4,1291 Q984.6,1291 984.6,1301 L984.6,1337 Q984.6,1344 966.4,1344 Q948,1344 948,1337 Z" stroke-width="2.88"/>
<path d="M953,1300 Q955,1295 966,1295 Q978,1295 980,1300 Q977,1306 966,1306 Q955,1306 953,1300 Z" stroke-width="2.4"/>
<path d="M957,1298 L961,1303 M975,1297 L972,1303 M962,1296 L966,1301 L970,1296" stroke-width="1.68"/>
<line x1="966.25" y1="1297" x2="966.25" y2="1306" stroke-width="2.4"/>
<g stroke-width="2.04">
<line x1="952" y1="1325" x2="952" y2="1340"/><line x1="956" y1="1327" x2="956" y2="1342"/>
<line x1="960" y1="1328" x2="960" y2="1343"/><line x1="964" y1="1328" x2="964" y2="1343"/>
<line x1="968" y1="1328" x2="968" y2="1343"/><line x1="972" y1="1328" x2="972" y2="1343"/>
<line x1="976" y1="1327" x2="976" y2="1342"/><line x1="980" y1="1325" x2="980" y2="1340"/>
</g>
<path d="M948,1322 Q966,1330 984.6,1322" stroke-width="1.68"/>
</g>
<g id="shield431" fill="none" stroke="#000" stroke-width="2.16" stroke-linejoin="round">
<polyline points="1049,1099 1049,1108.7 1052,1108.7 1085.4,1081 1087,1066.4 1096.8,1044.5 1096,1041.25 1079,1038 1064.3,1038.5 1064.3,1051 1065,1061 1062,1066 1052,1066 1052,1086"/>
<polyline points="1052,1066 1064,1061" stroke-width="1.68"/>
<rect x="1043.5" y="1087" width="10" height="12.5" stroke-width="1.92"/>
<rect x="1049" y="1086" width="5" height="11" fill="#000" stroke="none"/>
<polygon points="1081,1094 1084,1090 1089,1091 1089,1096 1084,1098" fill="#000" stroke-width="1.44"/>
</g>

<g id="cooler433" fill="none" stroke="#000" stroke-width="2.16" stroke-linejoin="round" stroke-linecap="round">
<polyline points="989,1186.5 1021.25,1205"/>
<polyline points="1030,1208.75 1063.75,1227.5"/>
<polyline points="971.25,1196 1008.75,1216.25"/>
<polyline points="1012.5,1222 1046.25,1237.5"/>
<polygon points="1007.5,1217.5 1028.75,1205 1032.5,1208.75 1011.25,1225" stroke-width="2.4"/>
<polyline points="1010,1222 1011,1227 1014,1225" stroke-width="1.8"/>
<path d="M1016,1217 L1027,1211 L1029,1215 Q1024,1220 1018,1220" stroke-width="1.92"/>
<polygon points="1045,1238.75 1055,1228.75 1068.75,1226.25 1077.5,1231.25 1072.5,1242.5 1052.5,1246.25" stroke-width="2.16"/>
<polyline points="1047,1242 1050,1248 1054,1247" stroke-width="1.92"/>
<polyline points="1055,1235 1062,1238" stroke-width="1.68"/>
<polyline points="1072,1229 1076,1236 1070,1243" stroke-width="1.56"/>
<polyline points="1075,1235 1095,1245" stroke-width="2.4"/>
<polyline points="1052.5,1241.25 1080,1255" stroke-width="2.4"/>
<polygon points="1093,1242 1100,1242 1104,1244 1110,1246 1110,1252 1104,1254 1098,1250 1093,1247" fill="#000" stroke-width="1.2"/>
<polygon points="1078,1253 1085,1253 1089,1255 1096,1257 1096,1263 1090,1265 1084,1261 1078,1258" fill="#000" stroke-width="1.2"/>
<circle cx="1105" cy="1249" r="1.5" fill="#fff" stroke="none"/>
<circle cx="1091" cy="1260" r="1.5" fill="#fff" stroke="none"/>
</g>

<g class="ld"><polyline points="1200.3,22.9 1250,28.1"/>
<polyline points="1245.3,51.6 1261.3,45.9"/>
<polyline points="1347.5,67.5 1371,88 1327,81.6"/>
<polyline points="1204,139 1176,126 1193,155"/>
<polyline points="1336,119 1325,112.5"/>
<polyline points="1266,144 1251,127.5"/>
<polyline points="1207,197 1187.5,178"/>
<polyline points="1170,229 1167,199"/>
<polyline points="783,138.75 802,176.25"/>
<polyline points="958.75,345 935,356"/>
<polyline points="805,371 847.5,384"/>
<polyline points="723,445.4 767,453"/>
<polyline points="722.5,512.5 765,500"/>
<polyline points="950,526 935,516"/>
<polyline points="852.5,567.5 857.5,550"/>
<polyline points="983.75,591 967.5,605"/>
<polyline points="1026,630 1010,645"/>
<polyline points="728.75,717.5 762.5,731"/>
<polyline points="781,766 796,746"/>
<polyline points="950,756 933.75,777.5"/>
<polyline points="240,821 232.5,870"/>
<polyline points="325,870 315,894"/>
<polyline points="244.5,927.5 262.5,912.5"/>
<polyline points="315,1006 340,972.5"/>
<polyline points="725,873 765.5,868"/>
<polyline points="966.5,909 956,934.5"/>
<polyline points="632,1042.5 669.5,1040.4"/>
<polyline points="683,1078.5 707,1063.5"/>
<polyline points="932,1029 915.5,1036.5"/>
<polyline points="960.5,1071 948.5,1074"/>
<polyline points="822.5,1116 840.5,1137"/>
<polyline points="974,1119 962,1123.5"/>
<polyline points="729.5,1129.5 752,1122"/>
<polyline points="776,1161 800,1146"/>
<polyline points="1112.25,1012 1092,1039.6"/>
<polyline points="1114.7,1077 1089.5,1091.6"/>
<polyline points="1047.75,1182 1030,1208.5"/>
<polyline points="1096.75,1213.75 1075.75,1231"/>
<polyline points="1131.75,1255.75 1112.5,1248.75"/>
<polyline points="992.5,1270 973,1275"/>
<polyline points="794,1324 822,1321.5"/>
<polyline points="1005.75,1325.75 984.75,1315.25"/>
<polyline points="1011,1399 998.75,1395.75"/>
<polyline points="720.5,1234.75 745,1231.25"/></g>
<g class="lb"><text x="1137" y="33.5">109</text>
<text x="1190.1" y="76.3">106</text>
<text x="1369" y="97.5">108</text>
<text x="1125" y="123.5">104</text>
<text x="1342.6" y="141.2">107</text>
<text x="1260.2" y="170.5">105</text>
<text x="745.75" y="131.5">100</text>
<text x="1196" y="225.5">103</text>
<text x="1134" y="256.5">102</text>
<text x="964.5" y="350.25">121</text>
<text x="739" y="376.1">120</text>
<text x="660" y="451">122</text>
<text x="662" y="527.5">124</text>
<text x="953" y="544">121</text>
<text x="819.5" y="597.5">120</text>
<text x="979.5" y="586.5">126</text>
<text x="1026" y="627.5">127</text>
<text x="669.5" y="720.5">128</text>
<text x="729.5" y="791.5">129</text>
<text x="943.75" y="745.25">425</text>
<text x="217.3" y="809.55">406</text>
<text x="309.25" y="860.35">407</text>
<text x="192.5" y="956.75">405</text>
<text x="272.5" y="1036.5">404</text>
<text x="666.5" y="885.5">403</text>
<text x="953" y="900.5">426</text>
<text x="576.5" y="1052">402</text>
<text x="933.5" y="1032.5">427</text>
<text x="959.5" y="1071.1">428</text>
<text x="629" y="1098.5">401</text>
<text x="773.5" y="1107.4">430</text>
<text x="979" y="1115.5">455</text>
<text x="671.5" y="1151">727</text>
<text x="716.5" y="1184">728</text>
<text x="1110.4" y="1000.8">431</text>
<text x="1115.7" y="1074.9">432</text>
<text x="1027.7" y="1170.2">433</text>
<text x="1103.2" y="1213.25">434</text>
<text x="659" y="1251">400</text>
<text x="1132.5" y="1273.25">435</text>
<text x="999" y="1278.6">438</text>
<text x="729" y="1338.5">439</text>
<text x="1014.8" y="1340.3">437</text>
<text x="1018.7" y="1407.9">453</text></g>
<g fill="#fff"><rect x="1138.2" y="29.9" width="6.4" height="5.4"/><rect x="1148.5" y="29.9" width="6.4" height="5.4"/><rect x="1191.3" y="72.7" width="6.4" height="5.4"/><rect x="1201.6" y="72.7" width="6.4" height="5.4"/><rect x="1370.2" y="93.9" width="6.4" height="5.4"/><rect x="1380.5" y="93.9" width="6.4" height="5.4"/><rect x="1126.2" y="119.9" width="6.4" height="5.4"/><rect x="1136.5" y="119.9" width="6.4" height="5.4"/><rect x="1343.8" y="137.6" width="6.4" height="5.4"/><rect x="1354.1" y="137.6" width="6.4" height="5.4"/><rect x="1261.4" y="166.9" width="6.4" height="5.4"/><rect x="1271.7" y="166.9" width="6.4" height="5.4"/><rect x="746.95" y="127.9" width="6.4" height="5.4"/><rect x="757.25" y="127.9" width="6.4" height="5.4"/><rect x="1197.2" y="221.9" width="6.4" height="5.4"/><rect x="1207.5" y="221.9" width="6.4" height="5.4"/><rect x="1135.2" y="252.9" width="6.4" height="5.4"/><rect x="1145.5" y="252.9" width="6.4" height="5.4"/><rect x="965.7" y="346.65" width="6.4" height="5.4"/><rect x="976" y="346.65" width="6.4" height="5.4"/><rect x="1001.28" y="346.65" width="6.4" height="5.4"/><rect x="1011.58" y="346.65" width="6.4" height="5.4"/><rect x="740.2" y="372.5" width="6.4" height="5.4"/><rect x="750.5" y="372.5" width="6.4" height="5.4"/><rect x="661.2" y="447.4" width="6.4" height="5.4"/><rect x="671.5" y="447.4" width="6.4" height="5.4"/><rect x="663.2" y="523.9" width="6.4" height="5.4"/><rect x="673.5" y="523.9" width="6.4" height="5.4"/><rect x="954.2" y="540.4" width="6.4" height="5.4"/><rect x="964.5" y="540.4" width="6.4" height="5.4"/><rect x="989.78" y="540.4" width="6.4" height="5.4"/><rect x="1000.08" y="540.4" width="6.4" height="5.4"/><rect x="820.7" y="593.9" width="6.4" height="5.4"/><rect x="831" y="593.9" width="6.4" height="5.4"/><rect x="980.7" y="582.9" width="6.4" height="5.4"/><rect x="991" y="582.9" width="6.4" height="5.4"/><rect x="1027.2" y="623.9" width="6.4" height="5.4"/><rect x="1037.5" y="623.9" width="6.4" height="5.4"/><rect x="670.7" y="716.9" width="6.4" height="5.4"/><rect x="681" y="716.9" width="6.4" height="5.4"/><rect x="730.7" y="787.9" width="6.4" height="5.4"/><rect x="741" y="787.9" width="6.4" height="5.4"/><rect x="665.78" y="1094.9" width="6.4" height="5.4"/><rect x="676.08" y="1094.9" width="6.4" height="5.4"/><rect x="1147.18" y="997.2" width="6.4" height="5.4"/><rect x="1157.48" y="997.2" width="6.4" height="5.4"/></g>
</svg></body></html>
